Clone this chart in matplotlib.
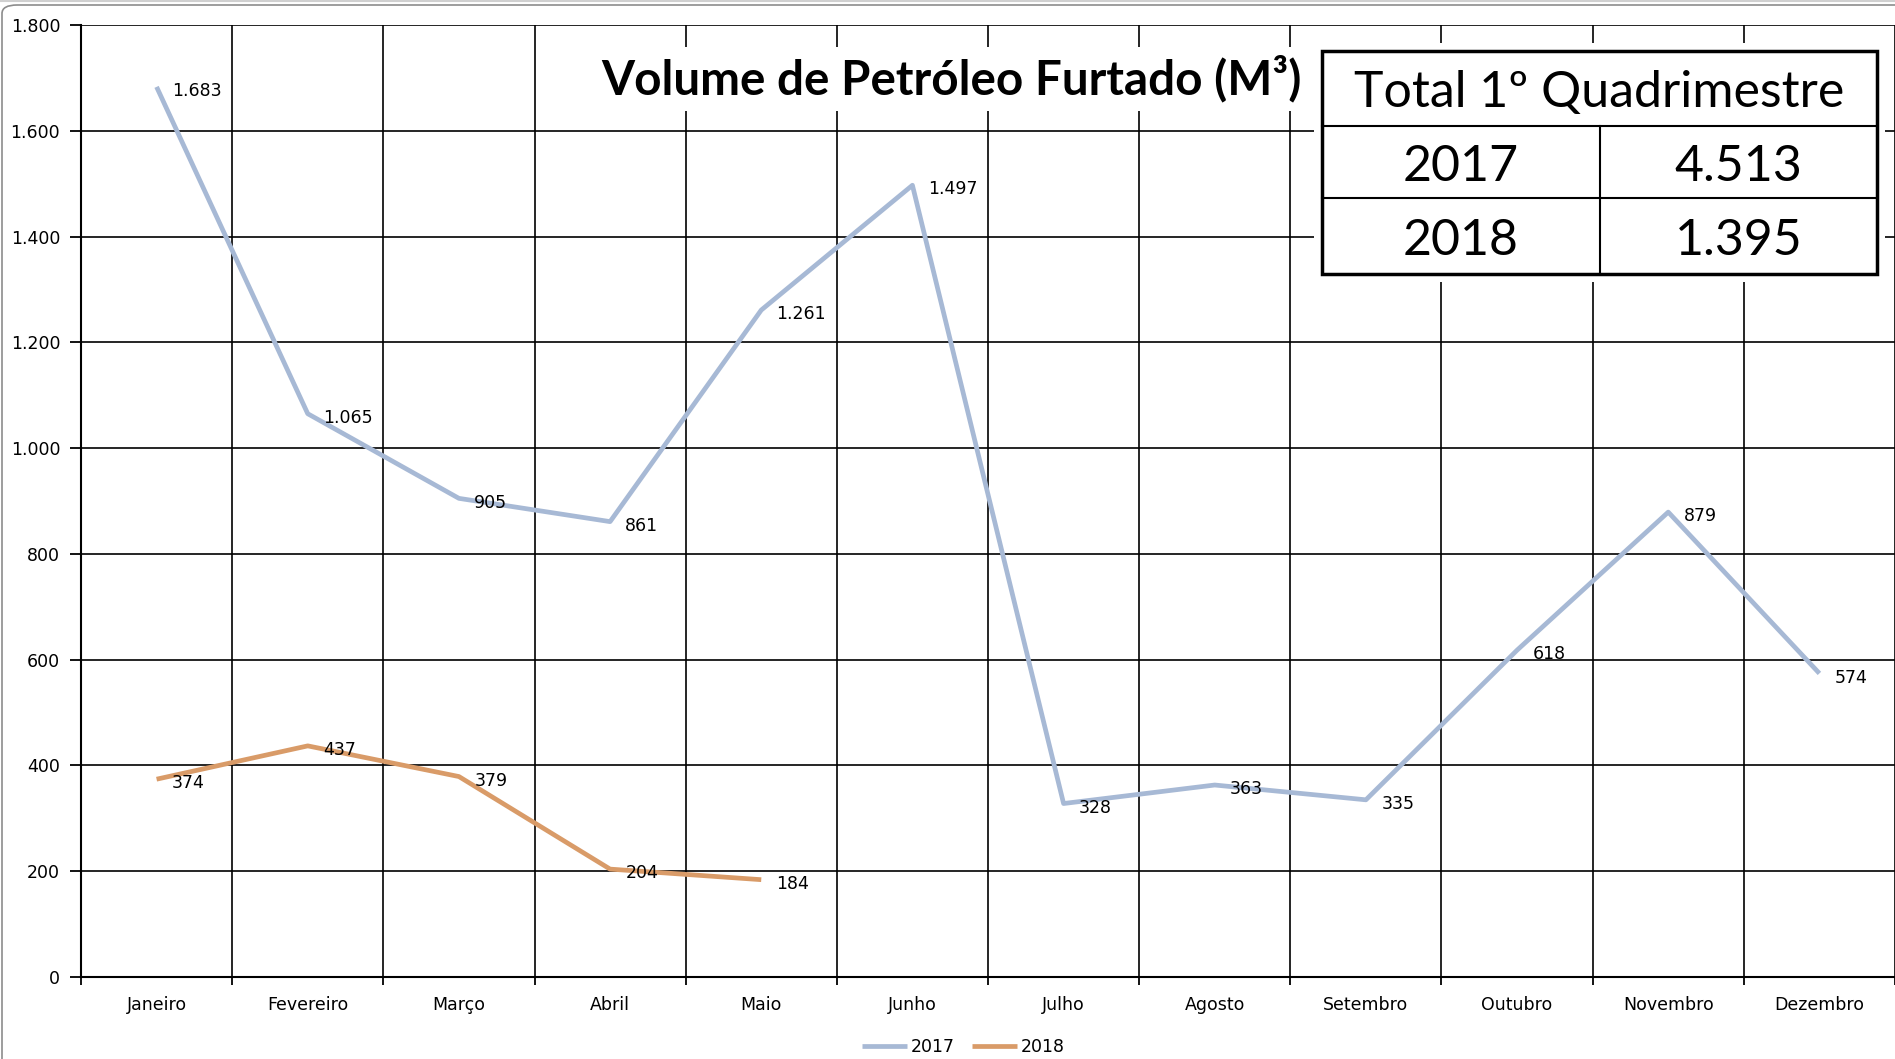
import matplotlib.pyplot as plt
from matplotlib.patches import FancyBboxPatch, Rectangle
from matplotlib.lines import Line2D

months = ["Janeiro", "Fevereiro", "Março", "Abril", "Maio", "Junho",
          "Julho", "Agosto", "Setembro", "Outubro", "Novembro", "Dezembro"]
vol_2017 = [1683, 1065, 905, 861, 1261, 1497, 328, 363, 335, 618, 879, 574]
vol_2018 = [374, 437, 379, 204, 184]
series_names = ["2017", "2018"]
y_ticks = list(range(0, 1801, 200))

table_header = "Total 1º Quadrimestre"
table_years = ["2017", "2018"]
table_totals = ["4.513", "1.395"]

title = "Volume de Petróleo Furtado (M³)"

c17 = "#A7B9D5"
c18 = "#D99B68"


def fmt(v):
    return f"{v:,}".replace(",", ".")


W, H = 1895, 1059
fig = plt.figure(figsize=(W / 100, H / 100), dpi=100)


def fx(px):
    return px / W


def fy(py):
    return 1 - py / H


ax = fig.add_axes([fx(81), fy(977), 1 - fx(81), fy(25) - fy(977)])

x = list(range(len(months)))
ax.plot(x, vol_2017, color=c17, lw=3.4, solid_capstyle="butt", zorder=3, label=series_names[0])
ax.plot(x[:len(vol_2018)], vol_2018, color=c18, lw=3.4, solid_capstyle="butt", zorder=3, label=series_names[1])

for xs, ys in [(x, vol_2017), (x[:len(vol_2018)], vol_2018)]:
    for xi, yi in zip(xs, ys):
        ax.annotate(fmt(yi), (xi, yi), xytext=(11, -3), textcoords="offset points",
                    ha="left", va="center", fontsize=12.5, color="black", zorder=4)

ax.set_xlim(-0.5, len(months) - 0.5)
ax.set_ylim(0, 1800)
ax.set_yticks(y_ticks)
ax.set_yticklabels([fmt(v) for v in y_ticks], fontsize=12.5)
ax.set_xticks(x)
ax.set_xticklabels(months, fontsize=12.5)
ax.set_xticks([i - 0.5 for i in range(len(months) + 1)], minor=True)
ax.tick_params(axis="x", which="major", length=0, pad=14)
ax.tick_params(axis="x", which="minor", length=6, width=1.3, color="black")
ax.tick_params(axis="y", length=8, width=1.3, pad=7)
ax.grid(True, axis="y", color="black", lw=1.2)
ax.grid(True, axis="x", which="minor", color="black", lw=1.2)
ax.set_axisbelow(True)
for s in ["top", "right"]:
    ax.spines[s].set_visible(False)
for s in ["left", "bottom"]:
    ax.spines[s].set_linewidth(1.5)

# title with white background over the grid
fig.text(fx(951), fy(79), title, ha="center", va="center", fontsize=34.3,
         fontweight="bold", family="Lato",
         bbox=dict(facecolor="white", edgecolor="none", pad=6))

# summary table
tl, tr, tt, tb = 1322, 1877, 51, 274
th, tm, tdiv = 126, 198, 1600
fig.add_artist(Rectangle((fx(tl - 8), fy(tb + 8)), fx(tr - tl + 16), (tb - tt + 16) / H,
                         transform=fig.transFigure, facecolor="white", edgecolor="none", zorder=5))
fig.add_artist(Rectangle((fx(tl), fy(tb)), fx(tr - tl), (tb - tt) / H,
                         transform=fig.transFigure, facecolor="white", edgecolor="black", lw=2.5, zorder=6))
for yy in [th, tm]:
    fig.add_artist(Line2D([fx(tl), fx(tr)], [fy(yy), fy(yy)], transform=fig.transFigure,
                          color="black", lw=1.5, zorder=7))
fig.add_artist(Line2D([fx(tdiv), fx(tdiv)], [fy(th), fy(tb)], transform=fig.transFigure,
                      color="black", lw=1.5, zorder=7))
fig.text(fx((tl + tr) / 2), fy((tt + th) / 2 + 4), table_header, ha="center", va="center",
         fontsize=36, family="Lato", zorder=8)
rows = [(th + tm) / 2 + 5, (tm + tb) / 2 + 5]
for yr, tot, ry in zip(table_years, table_totals, rows):
    fig.text(fx((tl + tdiv) / 2), fy(ry), yr, ha="center", va="center", fontsize=36,
             family="Lato", zorder=8)
    fig.text(fx((tdiv + tr) / 2), fy(ry), tot, ha="center", va="center", fontsize=36,
             family="Lato", zorder=8)

fig.legend(loc="center", bbox_to_anchor=(fx(963), fy(1047)), ncol=2, frameon=False,
           fontsize=12.5, handlelength=2.6, handletextpad=0.2, columnspacing=1.0)

# chart frame like the spreadsheet object border
fig.add_artist(FancyBboxPatch((fx(2), -0.05), 1.1, fy(5) + 0.05,
                              boxstyle="round,pad=0,rounding_size=0.008",
                              transform=fig.transFigure, fill=False, ec="#8C8C8C", lw=1.2))
fig.add_artist(Line2D([0, 1], [fy(1), fy(1)], transform=fig.transFigure, color="#D0D0D0", lw=1.5))

fig.savefig("out.png", dpi=100, facecolor="white")
